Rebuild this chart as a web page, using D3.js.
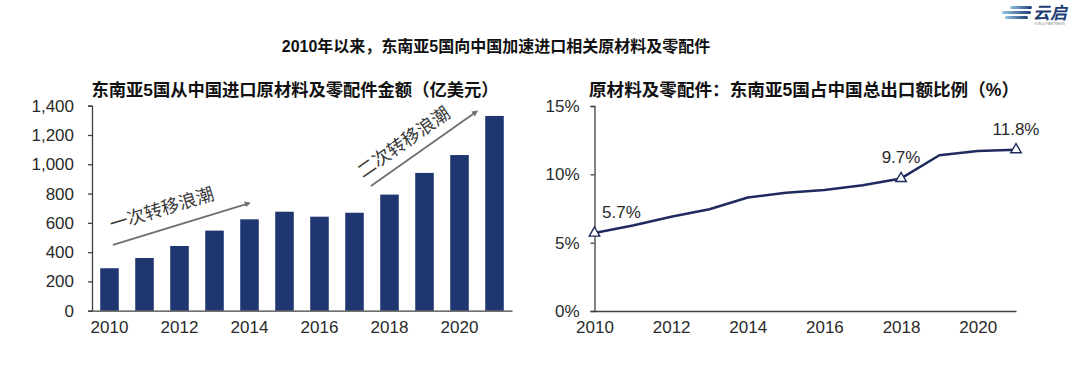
<!DOCTYPE html>
<html>
<head>
<meta charset="utf-8">
<style>
  body { margin: 0; background: #fff; }
  svg text { font-family: "Liberation Sans", Arial, "Noto Sans CJK SC", sans-serif; }
  .cjk { font-family: "Liberation Sans", "Noto Sans CJK SC", sans-serif; }
</style>
</head>
<body>
<svg></svg>
<script src="https://d3js.org/d3.v7.min.js"></script>
<script>
  const width = 1080;
  const height = 386;

  // data
  const years = [2010, 2011, 2012, 2013, 2014, 2015, 2016, 2017, 2018, 2019, 2020, 2021];
  const importValues = [290, 360, 442, 547, 624, 676, 642, 669, 793, 941, 1063, 1330];   // 亿美元
  const shareValues = [5.7, 6.25, 6.9, 7.45, 8.3, 8.65, 8.85, 9.2, 9.7, 11.4, 11.7, 11.8]; // %
  const labelledYears = [2010, 2018, 2021];
  const yearTicks = [2010, 2012, 2014, 2016, 2018, 2020];
  const importTicks = [0, 200, 400, 600, 800, 1000, 1200, 1400];
  const shareTicks = [0, 5, 10, 15];
  const waves = [
    { label: '一次转移浪潮', from: [2010.1, 450], to: [2014, 735] },
    { label: '二次转移浪潮', from: [2017.47, 852], to: [2020.5, 1362] }
  ];

  const mainTitle = '2010年以来，东南亚5国向中国加速进口相关原材料及零配件';
  const leftTitle = '东南亚5国从中国进口原材料及零配件金额（亿美元）';
  const rightTitle = '原材料及零配件：东南亚5国占中国总出口额比例（%）';

  const barColor = '#1f3670';
  const lineColor = '#1f2b5e';
  const axisColor = '#404040';
  const textColor = '#2a2a2a';

  const svg = d3.select('svg').attr('width', width).attr('height', height);

  svg.append('text')
      .attr('class', 'cjk')
      .attr('x', 496).attr('y', 52)
      .attr('text-anchor', 'middle')
      .style('font-size', '16px').style('font-weight', 'bold')
      .attr('fill', '#111')
      .text(mainTitle);

  drawLogo();
  drawBars();
  drawLine();

  function drawBars() {
    const x = d3.scaleBand().domain(years).range([92, 512])
        .paddingInner(0.47).paddingOuter(0.235);
    const y = d3.scaleLinear().domain([0, 1400]).range([310.7, 105.7]);

    svg.append('text')
        .attr('class', 'cjk')
        .attr('x', 295).attr('y', 96)
        .attr('text-anchor', 'middle')
        .style('font-size', '17.3px').style('font-weight', 'bold')
        .attr('fill', '#111')
        .text(leftTitle);

    svg.append('g').selectAll('rect')
        .data(importValues)
        .enter().append('rect')
        .attr('x', (d, i) => x(years[i]))
        .attr('width', x.bandwidth())
        .attr('y', d => y(d))
        .attr('height', d => y(0) - y(d))
        .attr('fill', barColor);

    const yAxis = svg.append('g')
        .attr('transform', 'translate(92,0)')
        .call(d3.axisLeft(y).tickValues(importTicks).tickSize(4).tickPadding(14)
            .tickFormat(d3.format(',')));
    styleAxis(yAxis);

    const xAxis = svg.append('g')
        .attr('transform', 'translate(0,310.7)')
        .call(d3.axisBottom(x).tickValues(yearTicks).tickSize(0).tickPadding(10).tickSizeOuter(0));
    styleAxis(xAxis);

    // transfer wave arrows
    const xc = d3.scaleLinear().domain([2010, 2021])
        .range([x(2010) + x.bandwidth() / 2, x(2021) + x.bandwidth() / 2]);

    svg.append('defs').append('marker')
        .attr('id', 'head')
        .attr('viewBox', '0 0 10 10')
        .attr('refX', 8).attr('refY', 5)
        .attr('markerWidth', 6).attr('markerHeight', 6)
        .attr('markerUnits', 'userSpaceOnUse')
        .attr('orient', 'auto')
        .append('path')
        .attr('d', 'M0,0L10,5L0,10z')
        .attr('fill', '#6f6f6f');

    const offsets = [20, 17];
    waves.forEach((w, i) => {
      const x1 = xc(w.from[0]), y1 = y(w.from[1]);
      const x2 = xc(w.to[0]), y2 = y(w.to[1]);
      svg.append('line')
          .attr('x1', x1).attr('y1', y1).attr('x2', x2).attr('y2', y2)
          .attr('stroke', '#6f6f6f').attr('stroke-width', 1.8)
          .attr('marker-end', 'url(#head)');
      const ang = Math.atan2(y2 - y1, x2 - x1);
      const t = 0.4;
      const cx = x1 + (x2 - x1) * t + Math.sin(ang) * offsets[i];
      const cy = y1 + (y2 - y1) * t - Math.cos(ang) * offsets[i];
      svg.append('text')
          .attr('class', 'cjk')
          .attr('transform', `translate(${cx},${cy}) rotate(${ang * 180 / Math.PI})`)
          .attr('text-anchor', 'middle')
          .attr('dy', '0.35em')
          .style('font-size', '18px')
          .attr('fill', '#3a3a3a')
          .text(w.label);
    });
  }

  function drawLine() {
    const x = d3.scalePoint().domain(years).range([594.5, 1016]);
    const y = d3.scaleLinear().domain([0, 15]).range([311, 106]);

    svg.append('text')
        .attr('class', 'cjk')
        .attr('x', 804).attr('y', 96)
        .attr('text-anchor', 'middle')
        .style('font-size', '17.6px').style('font-weight', 'bold')
        .attr('fill', '#111')
        .text(rightTitle);

    const yAxis = svg.append('g')
        .attr('transform', 'translate(594.5,0)')
        .call(d3.axisLeft(y).tickValues(shareTicks).tickSize(4).tickPadding(11)
            .tickFormat(d => d + '%'));
    styleAxis(yAxis);

    const xAxis = svg.append('g')
        .attr('transform', 'translate(0,311)')
        .call(d3.axisBottom(x).tickValues(yearTicks).tickSize(0).tickPadding(10).tickSizeOuter(0));
    styleAxis(xAxis);

    const line = d3.line()
        .x((d, i) => x(years[i]))
        .y(d => y(d));

    svg.append('path')
        .datum(shareValues)
        .attr('d', line)
        .attr('fill', 'none')
        .attr('stroke', lineColor)
        .attr('stroke-width', 2.5)
        .attr('stroke-linejoin', 'round');

    const pts = labelledYears.map(yr => ({ yr: yr, v: shareValues[years.indexOf(yr)] }));

    svg.append('g').selectAll('path')
        .data(pts)
        .enter().append('path')
        .attr('d', d3.symbol(d3.symbolTriangle).size(48))
        .attr('transform', d => `translate(${x(d.yr)},${y(d.v)})`)
        .attr('fill', '#fff')
        .attr('stroke', lineColor)
        .attr('stroke-width', 1.4);

    svg.append('g').selectAll('text')
        .data(pts)
        .enter().append('text')
        .attr('x', (d, i) => i === 0 ? x(d.yr) + 7.5 : x(d.yr))
        .attr('y', d => y(d.v) - 15)
        .attr('text-anchor', (d, i) => i === 0 ? 'start' : 'middle')
        .style('font-size', '17px')
        .attr('fill', textColor)
        .text(d => d.v.toFixed(1) + '%');
  }

  function styleAxis(g) {
    g.select('.domain').attr('stroke', axisColor).attr('stroke-width', 1.3);
    g.selectAll('.tick line').attr('stroke', axisColor).attr('stroke-width', 1.3);
    g.selectAll('.tick text')
        .style('font-size', '17px')
        .style('font-family', '"Liberation Sans", Arial, sans-serif')
        .attr('fill', textColor);
  }

  function drawLogo() {
    const grad = svg.append('defs').append('linearGradient')
        .attr('id', 'logoGrad').attr('x1', '0%').attr('x2', '100%');
    grad.append('stop').attr('offset', '0%').attr('stop-color', '#8fc3e6');
    grad.append('stop').attr('offset', '100%').attr('stop-color', '#1d3f73');

    const stripes = [[1010, 6, 22], [1002, 11, 29], [1005, 16, 23]];
    svg.append('g').selectAll('rect')
        .data(stripes)
        .enter().append('rect')
        .attr('x', d => d[0]).attr('y', d => d[1])
        .attr('width', d => d[2]).attr('height', 3)
        .attr('rx', 1.5)
        .attr('fill', 'url(#logoGrad)');

    svg.append('text')
        .attr('class', 'cjk')
        .attr('x', 1033).attr('y', 19)
        .style('font-size', '17px').style('font-weight', 'bold').style('font-style', 'italic')
        .attr('fill', '#1d3f73')
        .text('云启');
    svg.append('text')
        .attr('x', 1034).attr('y', 25)
        .style('font-size', '3.5px')
        .attr('fill', '#8a8a8a')
        .text('YUNQI PARTNERS');
  }
</script>
</body>
</html>
